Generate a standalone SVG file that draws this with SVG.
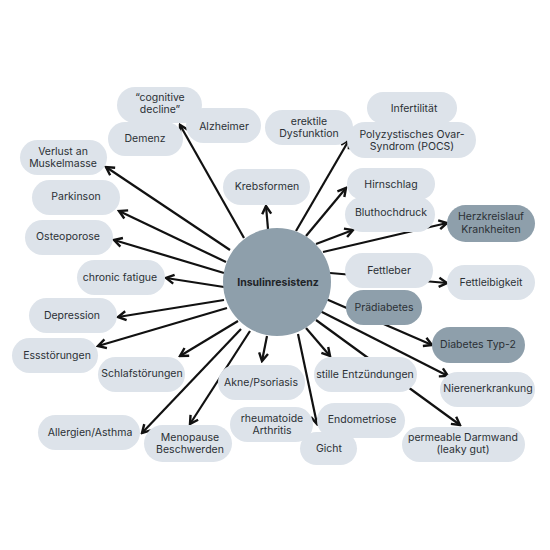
<svg xmlns="http://www.w3.org/2000/svg" width="550" height="550" viewBox="0 0 550 550">
<defs>
<marker id="ah" viewBox="0 0 12 12" markerWidth="12" markerHeight="12" refX="10" refY="6" orient="auto" markerUnits="userSpaceOnUse">
<path d="M2,1.5 L10,6 L2,10.5" fill="none" stroke="#111" stroke-width="2.4" stroke-linejoin="miter" stroke-linecap="butt"/>
</marker>
<style>
.l{fill:#dde3ea}
.d{fill:#8e9fab}
text{font-family:Inter,"Liberation Sans",sans-serif;font-size:10.5px;fill:#2b3035;text-anchor:middle}
.b{font-weight:bold;font-size:10.5px;fill:#1f2428}
#connectors line{stroke:#111;stroke-width:2.2;marker-end:url(#ah)}
</style>
</defs>
<rect width="550" height="550" fill="#fff"/>
<g id="connectors">
<line x1="244" y1="238" x2="180" y2="125"/>
<line x1="230" y1="250" x2="106" y2="167"/>
<line x1="226" y1="262" x2="119" y2="211"/>
<line x1="224" y1="273" x2="114" y2="240"/>
<line x1="224" y1="287" x2="166" y2="278"/>
<line x1="224" y1="300" x2="118" y2="317"/>
<line x1="227" y1="308" x2="98" y2="346"/>
<line x1="238" y1="321" x2="180" y2="356"/>
<line x1="241" y1="329" x2="142" y2="433"/>
<line x1="250" y1="331" x2="190" y2="424"/>
<line x1="267" y1="336" x2="262" y2="361"/>
<line x1="298" y1="334" x2="317" y2="424"/>
<line x1="306" y1="328" x2="330" y2="356"/>
<line x1="316" y1="320" x2="460" y2="425"/>
<line x1="320" y1="311" x2="448" y2="376"/>
<line x1="326" y1="299" x2="432" y2="345"/>
<line x1="330" y1="273" x2="447" y2="283"/>
<line x1="323" y1="252" x2="447" y2="223"/>
<line x1="316" y1="244" x2="353" y2="230"/>
<line x1="306" y1="236" x2="346" y2="188"/>
<line x1="296" y1="231" x2="349" y2="140"/>
<line x1="268" y1="229" x2="266" y2="206"/>
</g>
<g id="n-cognitive"><rect class="l" x="117" y="87" width="85" height="36" rx="18"/><text x="160" y="101">“cognitive</text><text x="160" y="113">decline”</text></g>
<g id="n-demenz"><rect class="l" x="108" y="122" width="75" height="34" rx="17"/><text x="145" y="142">Demenz</text></g>
<g id="n-alzheimer"><rect class="l" x="186" y="108" width="75" height="35" rx="17.5"/><text x="224" y="130">Alzheimer</text></g>
<g id="n-erektile"><rect class="l" x="265" y="110" width="88" height="35" rx="17.5"/><text x="309" y="125">erektile</text><text x="309" y="137">Dysfunktion</text></g>
<g id="n-infertilitaet"><rect class="l" x="367" y="92" width="90" height="32" rx="16"/><text x="414" y="112">Infertilität</text></g>
<g id="n-pcos"><rect class="l" x="347" y="122" width="129" height="36" rx="18"/><text x="412" y="138">Polyzystisches Ovar-</text><text x="412" y="150">Syndrom (POCS)</text></g>
<g id="n-muskel"><rect class="l" x="20" y="140" width="87" height="35" rx="17.5"/><text x="63" y="155">Verlust an</text><text x="63" y="167">Muskelmasse</text></g>
<g id="n-parkinson"><rect class="l" x="32" y="180" width="88" height="35" rx="17.5"/><text x="76" y="200">Parkinson</text></g>
<g id="n-osteoporose"><rect class="l" x="25" y="220" width="88" height="35" rx="17.5"/><text x="68" y="240">Osteoporose</text></g>
<g id="n-fatigue"><rect class="l" x="77" y="260" width="88" height="35" rx="17.5"/><text x="120" y="281">chronic fatigue</text></g>
<g id="n-depression"><rect class="l" x="29" y="298" width="88" height="35" rx="17.5"/><text x="72" y="319">Depression</text></g>
<g id="n-ess"><rect class="l" x="12" y="338" width="86" height="35" rx="17.5"/><text x="57" y="359">Essstörungen</text></g>
<g id="n-schlaf"><rect class="l" x="98" y="357" width="87" height="35" rx="17.5"/><text x="142" y="377">Schlafstörungen</text></g>
<g id="n-allergien"><rect class="l" x="38" y="415" width="102" height="35" rx="17.5"/><text x="90" y="436">Allergien/Asthma</text></g>
<g id="n-menopause"><rect class="l" x="144" y="425" width="88" height="37" rx="18.5"/><text x="190" y="441">Menopause</text><text x="190" y="453">Beschwerden</text></g>
<g id="n-akne"><rect class="l" x="218" y="365" width="87" height="35" rx="17.5"/><text x="261" y="386">Akne/Psoriasis</text></g>
<g id="n-rheuma"><rect class="l" x="230" y="407" width="83" height="35" rx="17.5"/><text x="272" y="422">rheumatoide</text><text x="272" y="434">Arthritis</text></g>
<g id="n-gicht"><rect class="l" x="300" y="432" width="57" height="33" rx="16.5"/><text x="329" y="452">Gicht</text></g>
<g id="n-endometriose"><rect class="l" x="317" y="403" width="88" height="35" rx="17.5"/><text x="362" y="423">Endometriose</text></g>
<g id="n-entzuendungen"><rect class="l" x="314" y="357" width="103" height="35" rx="17.5"/><text x="365" y="378">stille Entzündungen</text></g>
<g id="n-niere"><rect class="l" x="440" y="372" width="95" height="35" rx="17.5"/><text x="488" y="392">Nierenerkrankung</text></g>
<g id="n-darm"><rect class="l" x="402" y="427" width="123" height="35" rx="17.5"/><text x="463" y="441">permeable Darmwand</text><text x="463" y="453">(leaky gut)</text></g>
<g id="n-krebs"><rect class="l" x="223" y="169" width="87" height="36" rx="18"/><text x="267" y="190">Krebsformen</text></g>
<g id="n-hirnschlag"><rect class="l" x="347" y="168" width="88" height="32" rx="16"/><text x="391" y="188">Hirnschlag</text></g>
<g id="n-blutdruck"><rect class="l" x="345" y="197" width="90" height="35" rx="17.5"/><text x="391" y="216">Bluthochdruck</text></g>
<g id="n-herz"><rect class="d" x="447" y="205" width="88" height="37" rx="18.5"/><text x="491" y="220">Herzkreislauf</text><text x="491" y="233">Krankheiten</text></g>
<g id="n-fettleber"><rect class="l" x="345" y="253" width="88" height="35" rx="17.5"/><text x="389" y="274">Fettleber</text></g>
<g id="n-fettleibigkeit"><rect class="l" x="447" y="265" width="88" height="35" rx="17.5"/><text x="491" y="286">Fettleibigkeit</text></g>
<g id="n-praediabetes"><rect class="d" x="346" y="290" width="76" height="35" rx="17.5"/><text x="384" y="311">Prädiabetes</text></g>
<g id="n-diabetes"><rect class="d" x="432" y="327" width="93" height="36" rx="18"/><text x="478" y="348">Diabetes Typ-2</text></g>
<g id="n-center"><circle class="d" cx="277" cy="282" r="54"/><text class="b" x="278" y="286">Insulinresistenz</text></g>
</svg>
